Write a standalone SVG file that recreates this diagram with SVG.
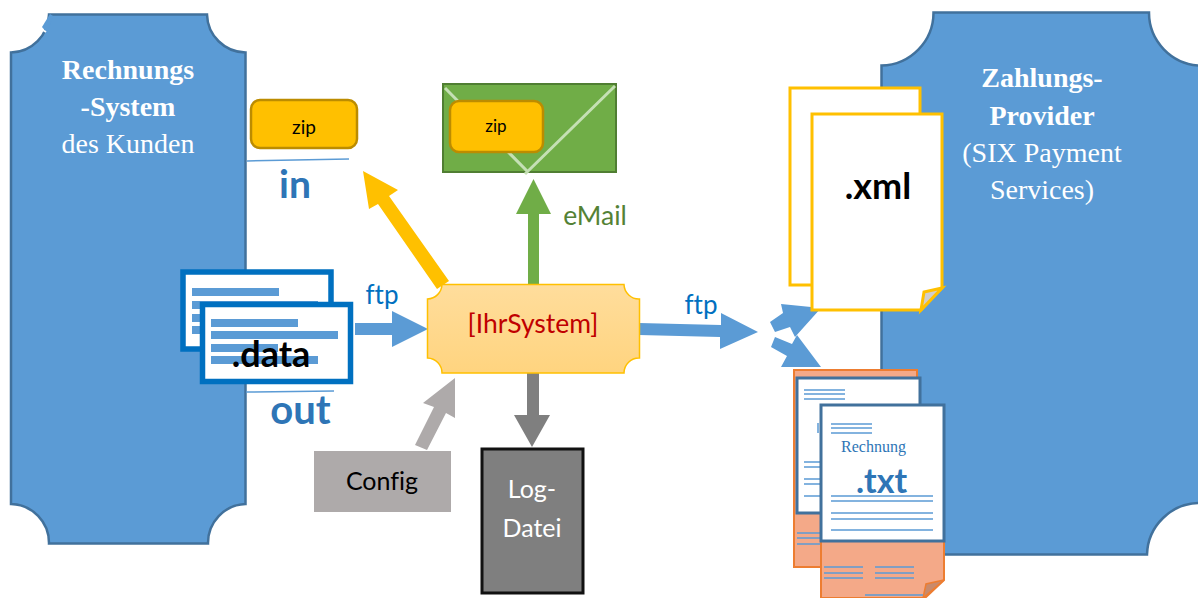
<svg xmlns="http://www.w3.org/2000/svg" width="1198" height="598" viewBox="0 0 1198 598">
<style>
.c{font-family:Lato,"Liberation Sans",sans-serif;font-variant-ligatures:none}
.s{font-family:"Liberation Serif",serif;fill:#fff;font-size:28px;text-anchor:middle}
.b{font-weight:bold}
.m{text-anchor:middle}
.pl{fill:#5b9bd5;stroke:#41719c;stroke-width:2.5}
.ln{stroke:#5b9bd5;stroke-width:1.5;fill:none}
.doc{fill:#fff;stroke:#0070c0;stroke-width:5.5}
.tdoc{fill:#fff;stroke:#41719c;stroke-width:3}
.xdoc{fill:#fff;stroke:#ffc000;stroke-width:3}
.odoc{fill:#f4a988;stroke:#ed7d31;stroke-width:2}
.zip{fill:#ffc000;stroke:#bc8c00;stroke-width:2.5}
</style>
<rect width="1198" height="598" fill="#fff"/>
<g id="rechnungs-system">
<path class="pl" d="M49 14.500H207A39 39 0 0 0 245.500 52.500V504A39 39 0 0 0 208 543.500H49A39 39 0 0 0 11 504V52.500A39 39 0 0 0 49 14.500Z"/>
<path d="M50 14L42 27L47 33L53 16Z" fill="#5b9bd5"/>
<path d="M41 29L46 32" stroke="#fff" stroke-width="2"/>
<text class="s b" x="128" y="79">Rechnungs</text>
<text class="s b" x="128" y="116">-System</text>
<text class="s" x="128" y="153">des Kunden</text>
</g>
<g id="zahlungs-provider">
<path class="pl" d="M933.500 12.500H1149A53 53 0 0 0 1200 65.500V503A53 53 0 0 0 1147 554.500H881.500V65.500A53 53 0 0 0 933.500 12.500Z"/>
<text class="s b" x="1042" y="87">Zahlungs-</text>
<text class="s b" x="1042" y="125">Provider</text>
<text class="s" x="1042" y="162">(SIX Payment</text>
<text class="s" x="1042" y="199">Services)</text>
</g>
<g id="connectors">
<path d="M355 323H392V311L428 329L392 347V335H355Z" fill="#5b9bd5"/>
<path d="M639 323L721 325V313L758 332L720 349V337L639 335Z" fill="#5b9bd5"/>
<path d="M528 285V214H516L533.500 179L551 214H539V285Z" fill="#70ad47"/>
<path d="M437 289L378 204L369 209L363 171L398 190L389 196L449 281Z" fill="#ffc000"/>
<path d="M527 373H539V415H550L532 447L514 415H527Z" fill="#7f7f7f"/>
<path d="M415 445L434 407L423 403L455 378V418L446 413L427 450Z" fill="#aeaaaa"/>
<path d="M775 332L770 322L783 313L781 304L821 308L795 337L790 327Z" fill="#5b9bd5"/>
<path d="M771 347L775 337L792 344L797 335L821 367H781L787 356Z" fill="#5b9bd5"/>
</g>
<g id="ihr-system">
<defs><linearGradient id="g" x1="0" y1="0" x2="0" y2="1"><stop offset="0" stop-color="#ffdd9c"/><stop offset="1" stop-color="#ffd47f"/></linearGradient></defs>
<path d="M442 284.500H624A15 15 0 0 0 639.500 299V358A15 15 0 0 0 624 373H442A15 15 0 0 0 427.500 358V299A15 15 0 0 0 442 284.500Z" fill="url(#g)" stroke="#ffc000" stroke-width="1.5"/>
<text class="c m" x="533" y="333" font-size="26.500" fill="#c00000">[IhrSystem]</text>
</g>
<g id="in-folder">
<rect class="zip" x="251" y="100" width="106" height="48" rx="9"/>
<text class="c m" x="304" y="134" font-size="19" fill="#000">zip</text>
<path class="ln" d="M247 161L349 159"/>
<text class="c b m" x="295" y="198" font-size="39" fill="#2e75b6">in</text>
</g>
<g id="email">
<rect x="443" y="84" width="173" height="88" fill="#70ad47" stroke="#507e32" stroke-width="2"/>
<path d="M445 88L528 172M615 86L525 174" stroke="#c5e0b4" stroke-width="3" fill="none"/>
<rect class="zip" x="450" y="101" width="93" height="51" rx="9"/>
<text class="c m" x="496" y="132" font-size="17" fill="#000">zip</text>
<text class="c m" x="595" y="225" font-size="26.500" fill="#548235">eMail</text>
</g>
<g id="data-files">
<rect class="doc" x="183" y="272" width="148" height="77"/>
<path fill="#5b9bd5" d="M192 288H279V296H192ZM192 301H318V309H192ZM192 314H278V322H192ZM192 326H318V334H192Z"/>
<rect class="doc" x="202.500" y="304.500" width="148" height="77"/>
<path fill="#5b9bd5" d="M211 319H298V327H211ZM211 331H338V339H211ZM211 344H278V352H211ZM211 356H318V364H211Z"/>
<text class="c b m" x="271" y="367" font-size="36" fill="#000">.data</text>
<path class="ln" d="M246 392L334 391"/>
<text class="c b m" x="300.500" y="424" font-size="40" fill="#2e75b6">out</text>
<text class="c m" x="382" y="304" font-size="26" fill="#0070c0">ftp</text>
</g>
<g id="config">
<rect x="314" y="451" width="137" height="61" fill="#aeaaaa"/>
<text class="c m" x="382" y="490" font-size="25" fill="#000">Config</text>
</g>
<g id="log-datei">
<rect x="482" y="449" width="101" height="144" fill="#7f7f7f" stroke="#111" stroke-width="3"/>
<text class="c m" x="532" y="498" font-size="25" fill="#fff">Log-</text>
<text class="c m" x="532" y="537" font-size="25" fill="#fff">Datei</text>
</g>
<g id="xml-files">
<rect class="xdoc" x="790" y="88" width="130" height="197"/>
<path class="xdoc" d="M812 114H942V288L921 310H812Z"/>
<path d="M942 288L924 292L921 310Z" fill="#d0cece" stroke="#ffc000" stroke-width="3"/>
<text class="c b m" x="878" y="199" font-size="36" fill="#000">.xml</text>
<text class="c m" x="701" y="314" font-size="26" fill="#0070c0">ftp</text>
</g>
<g id="txt-files">
<rect x="794" y="370" width="123" height="197" fill="#f4a988" stroke="#ed7d31" stroke-width="2"/>
<rect class="tdoc" x="797" y="378" width="123" height="135"/>
<path class="ln" d="M804 390H845M804 394H845M804 399H845M804 462H821M804 467H821M804 479H821M804 484H821M804 496H821M797 533H821M797 538H821M797 544H821M818 423V433"/>
<path class="odoc" d="M821 541H944V580L925 598H821Z"/>
<path d="M944 580L926 584L923 598Z" fill="#c98a6b" stroke="#ed7d31" stroke-width="1.500"/>
<rect class="tdoc" x="821" y="405" width="123" height="136"/>
<path class="ln" d="M831 424H872M831 428H872M831 433H872M831 496H933M831 501H933M831 513H933M831 519H933M831 530H933M824 567H863M824 573H863M824 578H863M875 567H914M875 573H914M875 578H914M865 595H923"/>
<text x="873.500" y="452" font-family="Liberation Serif,serif" font-size="16" fill="#2e75b6" text-anchor="middle">Rechnung</text>
<text class="c b m" x="881.500" y="493" font-size="34" fill="#2e75b6">.txt</text>
</g>
</svg>
